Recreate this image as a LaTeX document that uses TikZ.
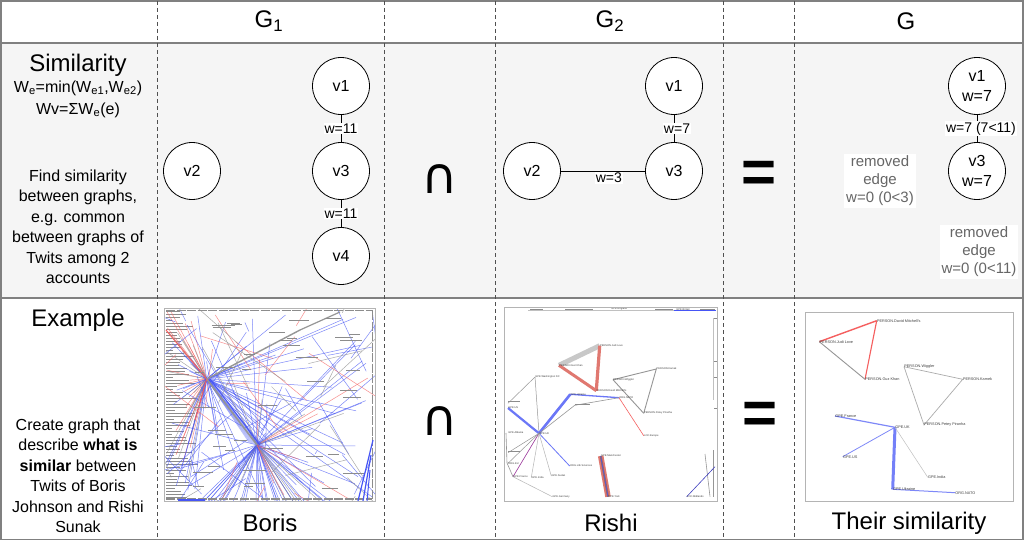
\documentclass[tikz,border=0pt]{standalone}
\usepackage{fontspec}
\setmainfont{Liberation Sans}
\newfontfamily\djv{DejaVu Sans}
\definecolor{rowgray}{RGB}{245,245,245}
\definecolor{framegray}{RGB}{128,128,128}
\definecolor{dashgray}{RGB}{80,80,80}
\definecolor{remgray}{RGB}{102,102,102}
\definecolor{bluel}{RGB}{70,85,245}
\definecolor{redl}{RGB}{245,95,95}
\definecolor{grayl}{RGB}{150,150,150}
\definecolor{salmon}{RGB}{224,120,112}
\definecolor{band}{RGB}{200,200,200}
\definecolor{imgframe}{RGB}{180,180,180}
\begin{document}
\begin{tikzpicture}[x=1pt,y=-1pt,
  vtx/.style={circle, draw=black, line width=0.8pt, fill=white, minimum size=57pt, inner sep=0pt, align=center, font=\fontsize{16}{20.7}\selectfont},
  elab/.style={fill=white, inner sep=1pt, font=\fontsize{14}{16}\selectfont},
  rem/.style={fill=white, inner sep=2pt, text=remgray, align=center, font=\fontsize{15}{18}\selectfont},
  hdr/.style={inner sep=0pt, font=\fontsize{24}{28}\selectfont},
  desc/.style={inner sep=0pt, align=center, font=\fontsize{16}{20.5}\selectfont},
  capsym/.style={inner sep=0pt, font=\djv\fontsize{50}{52}\selectfont},
  eqsym/.style={inner sep=0pt, font=\bfseries\fontsize{60}{60}\selectfont},
  dline/.style={draw=dashgray, line width=0.9pt, dash pattern=on 4pt off 3pt},
  fline/.style={draw=framegray, line width=1.4pt},
  bbl/.style={draw=bluel, line width=0.5pt, opacity=0.7},
  brd/.style={draw=redl, line width=0.5pt, opacity=0.7},
  bgr/.style={draw=grayl, line width=0.5pt, opacity=0.8},
  smg/.style={draw=black!45, line width=0.6pt},
  lbr/.style={anchor=west, inner sep=0.2pt, text=black!75, font=\fontsize{2.6}{3}\selectfont},
  lbs/.style={anchor=west, inner sep=0.2pt, text=black!75, font=\fontsize{3.8}{4.2}\selectfont},
  pic/.style={draw=imgframe, line width=1pt}
]
\useasboundingbox (0,0) rectangle (1026,543);
\fill[white] (0,0) rectangle (1026,543);
% rows
\fill[rowgray] (1,43) rectangle (1023,298);
\draw[fline] (1,1) rectangle (1023,539.5);
\draw[fline] (1,43) -- (1023,43);
\draw[fline] (1,298) -- (1023,298);
\foreach \xx in {157,384,495,723,794}{\draw[dline] (\xx,1) -- (\xx,539.5);}

% headers
\node[hdr] (hG1) at (269,21) {G\textsubscript{1}};
\node[hdr] (hG2) at (610,21) {G\textsubscript{2}};
\node[hdr] (hG) at (906,21) {G};

% left column, similarity row
\node[hdr] (simT) at (78,65) {Similarity};
\node[desc] (f1) at (78,88) {W\textsubscript{e}=min(W\textsubscript{e1},W\textsubscript{e2})};
\node[desc] (f2) at (78,110) {Wv=ΣW\textsubscript{e}(e)};
\node[desc] (simD) at (78,227) {Find similarity\\between graphs,\\e.g. common\\between graphs of\\Twits among 2\\accounts};

% G1
\node[vtx] (a1) at (341,86) {v1};
\node[vtx] (a3) at (341,171) {v3};
\node[vtx] (a4) at (341,256) {v4};
\node[vtx] (a2) at (192,171) {v2};
\draw[line width=0.8pt] (a1) -- node[elab]{w=11} (a3);
\draw[line width=0.8pt] (a3) -- node[elab]{w=11} (a4);

\node[capsym] (cap1) at (440,179) {∩};

% G2
\node[vtx] (b1) at (674,86) {v1};
\node[vtx] (b3) at (674,171) {v3};
\node[vtx] (b2) at (532,171) {v2};
\draw[line width=0.8pt] (b1) -- node[elab, xshift=3pt]{w=7} (b3);
\draw[line width=0.8pt] (b2) -- node[elab, pos=0.57, yshift=-7pt]{w=3} (b3);

\node[eqsym] (eq1) at (759,177) {=};

% G
\node[vtx] (c1) at (977,86) {v1\\w=7};
\node[vtx] (c3) at (977,171) {v3\\w=7};
\draw[line width=0.8pt] (c1) -- node[elab, xshift=4pt]{w=7 (7<11)} (c3);
\node[rem] (r1) at (880,181) {removed\\edge\\w=0 (0<3)};
\node[rem] (r2) at (979,252) {removed\\edge\\w=0 (0<11)};

% example row, left text
\node[hdr] (exT) at (78,320) {Example};
\node[desc] (exD) at (78,476) {Create graph that\\describe \textbf{what is}\\\textbf{similar} between\\Twits of Boris\\Johnson and Rishi\\Sunak};

% ---------- Boris picture ----------
\coordinate (bH1) at (206.7,379);
\coordinate (bH2) at (257,445);
\begin{scope}
\clip (164,308) rectangle (375,501);
\pgfmathsetseed{4242}
\foreach \i in {0,...,62}{\pgfmathsetmacro\lenv{6+26*rnd}\draw[smg, line width=0.7pt] (166,\i*3+311) -- ++(\lenv,0);}
\foreach \i in {1,...,18}{\pgfmathsetmacro\bxa{166+30*rnd}\pgfmathsetmacro\bya{312+150*rnd}\draw[brd] (bH1) -- (\bxa,\bya);}
\foreach \i in {1,...,18}{\pgfmathsetmacro\bxa{166+30*rnd}\pgfmathsetmacro\bya{312+170*rnd}\draw[bgr] (bH1) -- (\bxa,\bya);}
\foreach \i in {1,...,12}{\pgfmathsetmacro\bxa{166+30*rnd}\pgfmathsetmacro\bya{312+185*rnd}\draw[bbl] (bH1) -- (\bxa,\bya);}
\foreach \i in {1,...,34}{\pgfmathsetmacro\bxa{170+205*rnd}\pgfmathsetmacro\bya{310+190*rnd}\draw[bbl] (bH1) -- (\bxa,\bya);}
\foreach \i in {1,...,32}{\pgfmathsetmacro\bxa{195+140*rnd}\draw[bbl] (bH2) -- (\bxa,501);}
\foreach \i in {1,...,6}{\pgfmathsetmacro\bxa{220+100*rnd}\draw[bgr] (bH2) -- (\bxa,501);}
\foreach \i in {1,...,22}{\pgfmathsetmacro\bxa{170+205*rnd}\pgfmathsetmacro\bya{310+190*rnd}\draw[bbl] (bH2) -- (\bxa,\bya);}
\foreach \i in {1,...,7}{\pgfmathsetmacro\bxa{230+145*rnd}\pgfmathsetmacro\bya{330+170*rnd}\draw[brd] (bH2) -- (\bxa,\bya);}
\foreach \i in {1,...,6}{\pgfmathsetmacro\bxa{170+205*rnd}\pgfmathsetmacro\bya{310+190*rnd}\draw[bgr] (bH2) -- (\bxa,\bya);}
\foreach \i in {1,...,36}{\pgfmathsetmacro\bxa{170+205*rnd}\pgfmathsetmacro\bya{310+190*rnd}\pgfmathsetmacro\bxb{\bxa+160*rnd-80}\pgfmathsetmacro\byb{\bya+160*rnd-80}\draw[bbl] (\bxa,\bya) -- (\bxb,\byb);}
\foreach \i in {1,...,14}{\pgfmathsetmacro\bxa{170+205*rnd}\pgfmathsetmacro\bya{310+190*rnd}\pgfmathsetmacro\bxb{\bxa+160*rnd-80}\pgfmathsetmacro\byb{\bya+120*rnd-60}\draw[brd] (\bxa,\bya) -- (\bxb,\byb);}
\foreach \i in {1,...,18}{\pgfmathsetmacro\bxa{170+205*rnd}\pgfmathsetmacro\bya{310+190*rnd}\pgfmathsetmacro\bxb{\bxa+160*rnd-80}\pgfmathsetmacro\byb{\bya+160*rnd-80}\draw[bgr] (\bxa,\bya) -- (\bxb,\byb);}
\foreach \d in {-8,...,8}{\draw[bbl, opacity=0.35] (bH1) -- (257+\d,445+0.3*\d);}
\draw[draw=grayl, line width=1.6pt] (bH1) -- (bH2);
\draw[draw=bluel, line width=1pt] (210,379) -- (260,445);
\draw[draw=redl, line width=1pt] (bH1) -- (166,330);
\draw[draw=redl, line width=1pt] (bH1) -- (195,420);
\draw[draw=grayl, line width=1.4pt] (bH1) -- (300,330);
\draw[draw=grayl, line width=1.2pt] (300,330) -- (340,312);
\foreach \i in {1,...,40}{\pgfmathsetmacro\bxa{185+170*rnd}\pgfmathsetmacro\bya{315+180*rnd}\pgfmathsetmacro\lenv{8+16*rnd}\draw[smg, line width=0.5pt] (\bxa,\bya) -- ++(\lenv,0);}
\draw[smg, line width=1.6pt, dash pattern=on 9pt off 1.5pt] (166,310.5) -- (373,310.5);
\draw[smg, line width=1.6pt, dash pattern=on 9pt off 1.5pt] (372.5,311) -- (372.5,499);
\draw[smg, line width=1.4pt, dash pattern=on 9pt off 1.5pt] (166,499) -- (372,499);
\draw[draw=bluel, line width=1.2pt] (373,440) -- (358,501);
\draw[draw=bluel, line width=1.2pt] (371,455) -- (363,501);
\draw[draw=bluel, line width=1pt] (370,470) -- (367,501);
\draw[draw=bluel, line width=1.4pt] (178,500) -- (205,500);
\end{scope}
\draw[pic] (164,308) rectangle (375,501);
\node[hdr] (lbB) at (270,523) {Boris};

\node[capsym] (cap2) at (440,421) {∩};

% ---------- Rishi picture ----------
\coordinate (rJudi) at (599.7,345.7);
\coordinate (rGuz) at (559,365.3);
\coordinate (rDav) at (596.3,390.7);
\coordinate (rKam) at (656.3,369);
\coordinate (rWig) at (613,379.7);
\coordinate (rPet) at (643.7,413.3);
\coordinate (rWas) at (535,377);
\coordinate (rUkr) at (570.3,394.3);
\coordinate (rNat) at (619,397.7);
\coordinate (rUkus) at (508,403.3);
\coordinate (rUS) at (508,408);
\coordinate (rKas) at (574.7,405.3);
\coordinate (rUK) at (539,433.3);
\coordinate (rEur) at (643.7,435.7);
\coordinate (rAlb) at (508,432.7);
\coordinate (rBel) at (508,452.7);
\coordinate (rEU) at (508,463.3);
\coordinate (rFra) at (513,476.7);
\coordinate (rInd) at (531.3,477.3);
\coordinate (rSud) at (551.3,476);
\coordinate (rLif) at (569.7,466);
\coordinate (rMan) at (600.7,456);
\coordinate (rYor) at (608,496.7);
\coordinate (rGer) at (552.3,496.7);
\coordinate (rMid) at (686.7,496.7);
\coordinate (rRB) at (705,454);
\begin{scope}
\clip (504,307) rectangle (717,501);
\draw[draw=band, line width=5pt] (rGuz) -- (rJudi);
\draw[draw=salmon, line width=3.2pt] (rJudi) -- (rDav);
\draw[draw=salmon, line width=3pt] (rGuz) -- (rDav);
\draw[draw=grayl, line width=0.9pt] (rWig) -- (rKam) -- (rPet);
\draw[draw=grayl, line width=0.9pt] (rWig) -- (rPet);
\draw[draw=grayl, line width=0.5pt] (rWas) -- (rUkus);
\draw[draw=grayl, line width=0.5pt] (rWas) -- (rUK);
\draw[draw=bluel!80, line width=2.6pt] (rUK) -- (rUkr);
\draw[draw=bluel!80, line width=1.3pt] (rUkr) -- (rNat);
\draw[draw=bluel!80, line width=2.2pt] (rUK) -- (rUS);
\draw[draw=grayl, line width=0.6pt] (rUK) -- (rKas) -- (rNat);
\draw[draw=redl, line width=0.6pt] (rNat) -- (rEur);
\draw[draw=bluel!80, line width=0.8pt] (rUK) -- (rLif);
\draw[draw=violet!80, line width=0.6pt] (rUK) -- (rFra);
\draw[draw=grayl!70, line width=0.5pt] (rUK) -- (rInd);
\draw[draw=grayl!70, line width=0.5pt] (rUK) -- (rSud);
\draw[draw=grayl, line width=0.5pt] (rUK) -- (rBel);
\draw[draw=grayl, line width=0.5pt] (rUK) -- (rEU);
\draw[draw=grayl, line width=0.6pt] (506,433) -- (507,463) -- (rFra);
\draw[draw=grayl!70, line width=0.5pt] (rFra) -- (rGer);
\draw[draw=salmon, line width=5.5pt] (rMan) -- (rYor);
\draw[draw=gray!80!red, line width=2pt] (rMan) -- (rYor);
\draw[draw=bluel, line width=0.5pt] (rMan) -- (rYor);
\draw[draw=grayl, line width=0.6pt] (rRB) -- (710,496.7);
\draw[draw=grayl, line width=0.6pt] (713.3,450) -- (713.3,496.7);
\draw[draw=blue!50!gray, line width=0.6pt] (rMid) -- (715,466.7);
\draw[draw=grayl!60, line width=0.5pt] (713.3,318) -- (713.3,400);
\draw[draw=grayl!60, line width=0.4pt] (528,310) -- (674,310);
\draw[draw=bluel, line width=0.7pt] (674,310) -- (716,310);
\foreach \xa/\la in {530/13,565/28,655/18,700/15}{\draw[smg, line width=0.6pt] (\xa,309.3) -- ++(\la,0);}
\foreach \ya in {318,361,377,408}{\draw[smg, line width=0.6pt] (714,\ya) -- ++(3,0);}
\end{scope}
\node[lbr] (tEng) at (611,309.3) {GPE.England};
\node[lbr] (tBri) at (676,309.3) {GPE.Britain};
\node[lbr] (tJudi) at (rJudi) {PERSON.Judi Love};
\node[lbr] (tGuz) at (rGuz) {PERSON.Guz Khan};
\node[lbr] (tDav) at (rDav) {PERSON.David Mitchell's};
\node[lbr] (tKam) at (rKam) {PERSON.Kamek};
\node[lbr] (tWig) at (rWig) {PERSON.Wiggler};
\node[lbr] (tPet) at (rPet) {PERSON.Petey Piranha};
\node[lbr] (tWas) at (rWas) {GPE.Washington DC};
\node[lbr] (tUkr) at (rUkr) {GPE.Ukraine};
\node[lbr] (tNat) at (rNat) {ORG.NATO};
\node[lbr] (tUS) at (rUS) {GPE.US};
\node[lbr] (tUK) at (rUK) {GPE.UK};
\node[lbr] (tEur) at (rEur) {LOC.Europe};
\node[lbr] (tAlb) at (rAlb) {GPE.Albania};
\node[lbr] (tEU) at (rEU) {ORG.EU};
\node[lbr] (tFra) at (rFra) {GPE.France};
\node[lbr] (tInd) at (rInd) {GPE.India};
\node[lbr] (tSud) at (rSud) {GPE.Sudan};
\node[lbr] (tLif) at (rLif) {ORG.Life Sciences};
\node[lbr] (tMan) at (rMan) {GPE.Manchester};
\node[lbr] (tYor) at (rYor) {GPE.York};
\node[lbr] (tGer) at (rGer) {GPE.Germany};
\node[lbr] (tMid) at (rMid) {LOC.Midlands};
\draw[smg, line width=0.6pt] (508,401.5) -- ++(12,0);
\draw[smg, line width=0.6pt] (575,404.5) -- ++(15,0);
\draw[smg, line width=0.6pt] (508,451.5) -- ++(12,0);
\draw[pic] (504,307) rectangle (717,501);
\node[hdr] (lbR) at (611,523) {Rishi};

\node[eqsym] (eq2) at (760,418) {=};

% ---------- similarity picture ----------
\coordinate (sDav) at (876.7,320.7);
\coordinate (sJudi) at (819.3,341.7);
\coordinate (sGuz) at (865,379.3);
\coordinate (sWig) at (904,366.7);
\coordinate (sKam) at (962.7,379.3);
\coordinate (sPet) at (924,425);
\coordinate (sFra) at (835,416);
\coordinate (sUK) at (895,427.3);
\coordinate (sUS) at (842.7,456.7);
\coordinate (sInd) at (927.7,477.3);
\coordinate (sUkr) at (892.7,489.3);
\coordinate (sNat) at (955,492.7);
\draw[draw=redl, line width=1.4pt] (sJudi) -- (sDav);
\draw[draw=redl, line width=1.1pt] (sDav) -- (sGuz);
\draw[draw=grayl, line width=0.9pt] (sJudi) -- (sGuz);
\draw[draw=grayl!80, line width=0.7pt] (sWig) -- (sKam) -- (sPet) -- (sWig);
\draw[draw=bluel!70, line width=1.2pt] (sFra) -- (sUK);
\draw[draw=bluel!70, line width=0.8pt] (sUK) -- (sUS);
\draw[draw=bluel!75, line width=3pt] (sUK) -- (sUkr);
\draw[draw=bluel!70, line width=1pt] (sUkr) -- (sNat);
\draw[draw=grayl!60, line width=0.5pt] (sUK) -- (sInd);
\node[lbs] (uDav) at (sDav) {PERSON.David Mitchell's};
\node[lbs] (uJudi) at (sJudi) {PERSON.Judi Love};
\node[lbs] (uGuz) at (sGuz) {PERSON.Guz Khan};
\node[lbs] (uWig) at (sWig) {PERSON.Wiggler};
\node[lbs] (uKam) at (sKam) {PERSON.Kamek};
\node[lbs] (uPet) at (sPet) {PERSON.Petey Piranha};
\node[lbs] (uFra) at (sFra) {GPE.France};
\node[lbs] (uUK) at (sUK) {GPE.UK};
\node[lbs] (uUS) at (sUS) {GPE.US};
\node[lbs] (uInd) at (sInd) {GPE.India};
\node[lbs] (uUkr) at (sUkr) {GPE.Ukraine};
\node[lbs] (uNat) at (sNat) {ORG.NATO};
\draw[pic] (805,312) rectangle (1013,501);
\node[hdr] (lbS) at (909,523) {Their similarity};
\end{tikzpicture}
\end{document}
